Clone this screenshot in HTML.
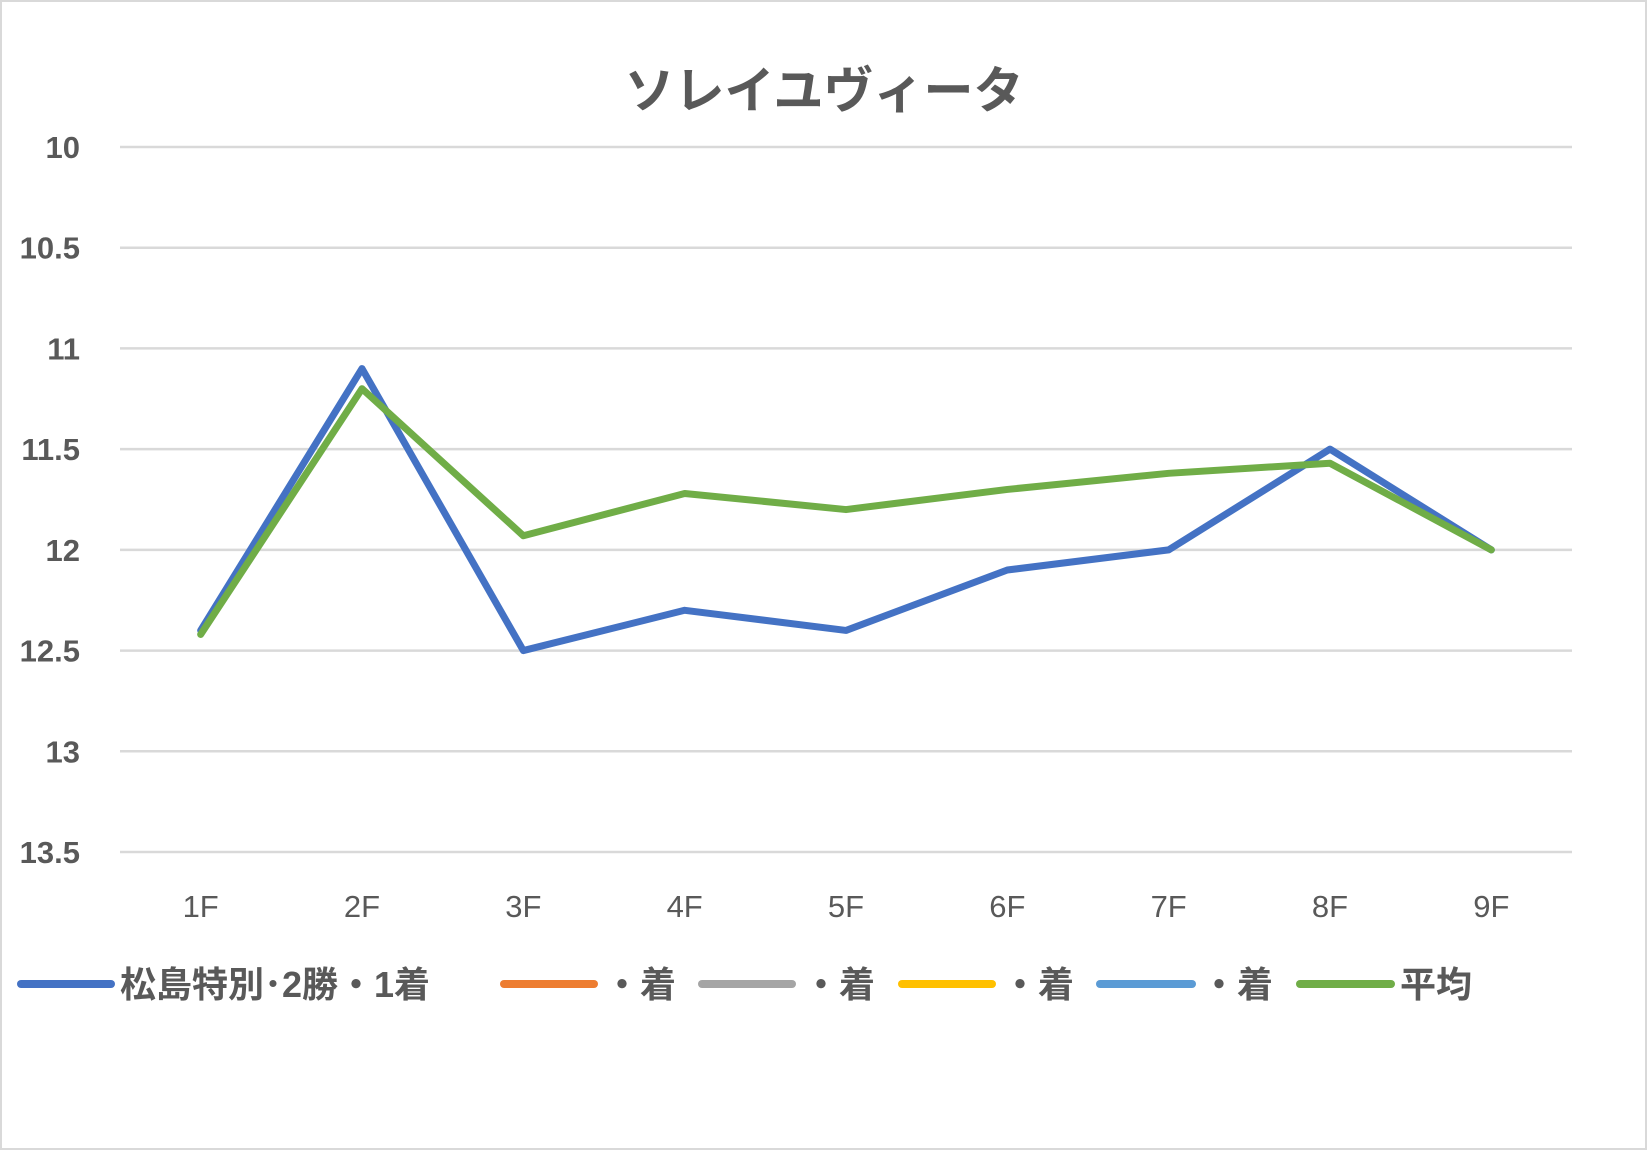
<!DOCTYPE html>
<html><head><meta charset="utf-8"><style>
html,body{margin:0;padding:0;background:#fff;}
svg{display:block;}
text{font-family:"Liberation Sans","Noto Sans CJK JP",sans-serif;}
</style></head><body>
<svg id="chart" width="1647" height="1150" xmlns="http://www.w3.org/2000/svg">
<rect x="1" y="1" width="1645" height="1148" fill="#fff" stroke="#d9d9d9" stroke-width="2"/>
<text x="824" y="108" text-anchor="middle" font-size="50" font-weight="bold" fill="#595959">ソレイユヴィータ</text>
<g id="grid"></g><g id="ylabels"></g><g id="xlabels"></g><g id="series"></g>
<g id="legend" font-size="36" font-weight="bold" fill="#595959">
<line x1="21" y1="984" x2="111" y2="984" stroke="#4472c4" stroke-width="8" stroke-linecap="round"/>
<text x="120" y="997">松島特別･2勝・1着</text>
<line x1="504" y1="984" x2="594" y2="984" stroke="#ed7d31" stroke-width="8" stroke-linecap="round"/>
<text x="604" y="997">・着</text>
<line x1="702" y1="984" x2="792" y2="984" stroke="#a5a5a5" stroke-width="8" stroke-linecap="round"/>
<text x="803" y="997">・着</text>
<line x1="902" y1="984" x2="992" y2="984" stroke="#ffc000" stroke-width="8" stroke-linecap="round"/>
<text x="1002" y="997">・着</text>
<line x1="1100" y1="984" x2="1192" y2="984" stroke="#5b9bd5" stroke-width="8" stroke-linecap="round"/>
<text x="1201" y="997">・着</text>
<line x1="1300" y1="984" x2="1391" y2="984" stroke="#70ad47" stroke-width="8" stroke-linecap="round"/>
<text x="1400" y="997">平均</text>
</g>
</svg>
<script>
const categories = ["1F","2F","3F","4F","5F","6F","7F","8F","9F"];
const yTicks = [10,10.5,11,11.5,12,12.5,13,13.5];
const seriesMatsushima = [12.4,11.1,12.5,12.3,12.4,12.1,12.0,11.5,12.0];
const seriesAverage = [12.42,11.2,11.93,11.72,11.8,11.7,11.62,11.57,12.0];

const NS="http://www.w3.org/2000/svg";
const plotL=120, plotR=1572, yTop=147, yBot=852, yMin=10, yMax=13.5;
const band=(plotR-plotL)/categories.length;
function xPos(i){return plotL+band*(i+0.5);}
function yPos(v){return yTop+(v-yMin)/(yMax-yMin)*(yBot-yTop);}
function mk(tag,parent,attrs){const e=document.createElementNS(NS,tag);for(const k in attrs)e.setAttribute(k,attrs[k]);document.getElementById(parent).appendChild(e);return e;}

yTicks.forEach(t=>{
  const l=mk('line','grid',{x1:plotL,x2:plotR,y1:yPos(t),y2:yPos(t),stroke:'#d9d9d9','stroke-width':2.5});
  
  
  const tx=mk('text','ylabels',{x:80,y:yPos(t)+11,'text-anchor':'end','font-size':31,'font-weight':'bold',fill:'#595959'});
  tx.textContent=String(t);
  
  
});
categories.forEach((c,i)=>{
  const tx=mk('text','xlabels',{x:xPos(i),y:917,'text-anchor':'middle','font-size':31,fill:'#595959'});
  tx.textContent=c;
  
  
});
function drawLine(vals,color,name){
  const p=mk('polyline','series',{points:vals.map((v,i)=>xPos(i)+','+yPos(v)).join(' '),fill:'none',stroke:color,'stroke-width':7,'stroke-linejoin':'round','stroke-linecap':'round'});
  
  
}
drawLine(seriesMatsushima,'#4472c4','series-matsushima-line');
drawLine(seriesAverage,'#70ad47','series-average-line');
</script>
</body></html>
